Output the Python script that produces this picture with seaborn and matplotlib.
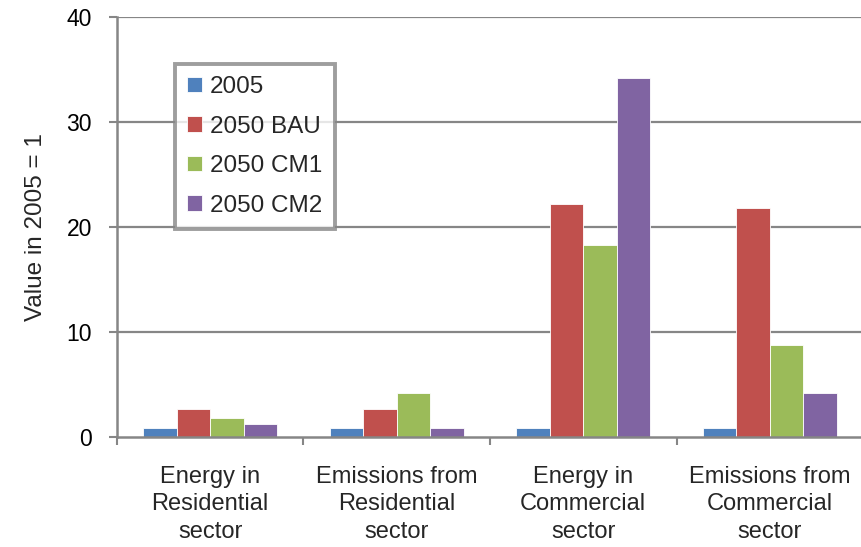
import matplotlib
matplotlib.use("Agg")
import matplotlib.pyplot as plt
from matplotlib.ticker import FixedLocator
import seaborn as sns
import pandas as pd

categories = ["Energy in\nResidential\nsector", "Emissions from\nResidential\nsector",
              "Energy in\nCommercial\nsector", "Emissions from\nCommercial\nsector"]
series = ["2005", "2050 BAU", "2050 CM1", "2050 CM2"]
v2005 = [0.85, 0.85, 0.85, 0.85]
vBAU = [2.6, 2.6, 22.2, 21.8]
vCM1 = [1.8, 4.2, 18.3, 8.7]
vCM2 = [1.25, 0.85, 34.2, 4.2]
colors = ["#4F81BD", "#C0504D", "#9BBB59", "#8064A2"]
yticks = [0, 10, 20, 30, 40]

rows = []
for s, vals in zip(series, [v2005, vBAU, vCM1, vCM2]):
    for c, v in zip(categories, vals):
        rows.append({"cat": c, "series": s, "value": v})
df = pd.DataFrame(rows)

sns.set_style("white")
plt.rcParams['font.family'] = ['Liberation Sans', 'DejaVu Sans']

fig = plt.figure(figsize=(8.62, 5.47), dpi=100)
ax = fig.add_axes([0.1357, 0.2017, 0.8655, 0.7665])
sns.barplot(data=df, x="cat", y="value", hue="series", order=categories,
            hue_order=series, palette=colors, width=0.72, ax=ax,
            edgecolor="white", linewidth=0.6, saturation=1, errorbar=None)

grid_c = "#868686"
ax.set_ylim(0, 40)
ax.set_xlim(-0.5, 3.5)
ax.set_yticks(yticks)
ax.set_yticklabels([str(t) for t in yticks], fontsize=16.5)
for t in yticks[1:]:
    ax.axhline(t, color=grid_c, lw=1.6, zorder=0)
ax.set_axisbelow(True)

for side in ["top", "right"]:
    ax.spines[side].set_visible(False)
for side in ["left", "bottom"]:
    ax.spines[side].set_color(grid_c)
    ax.spines[side].set_linewidth(1.8)

ax.tick_params(axis="y", which="major", length=6, width=1.5, color=grid_c,
               direction="out", left=True, pad=12, labelcolor="black")
ax.set_xticks(range(len(categories)))
ax.set_xticklabels(categories, fontsize=17, linespacing=1.32)
ax.tick_params(axis="x", which="major", length=0, pad=21)
ax.xaxis.set_minor_locator(FixedLocator([-0.5, 0.5, 1.5, 2.5, 3.5]))
ax.tick_params(axis="x", which="minor", length=6, width=1.5, color=grid_c,
               direction="out", bottom=True)
ax.set_xlabel("")
ax.set_ylabel("Value in 2005 = 1", fontsize=17.5, labelpad=14)

leg = ax.legend(loc="upper left", bbox_to_anchor=(0.0777, 0.889), fontsize=17.5,
                frameon=True, fancybox=False, handlelength=0.6, handleheight=0.6,
                handletextpad=0.35, labelspacing=0.72, borderpad=0.5,
                borderaxespad=0)
leg.get_frame().set_edgecolor(grid_c)
leg.get_frame().set_linewidth(2.8)
leg.get_frame().set_facecolor("white")
leg.set_title(None)

fig.savefig("out.png", dpi=100)
